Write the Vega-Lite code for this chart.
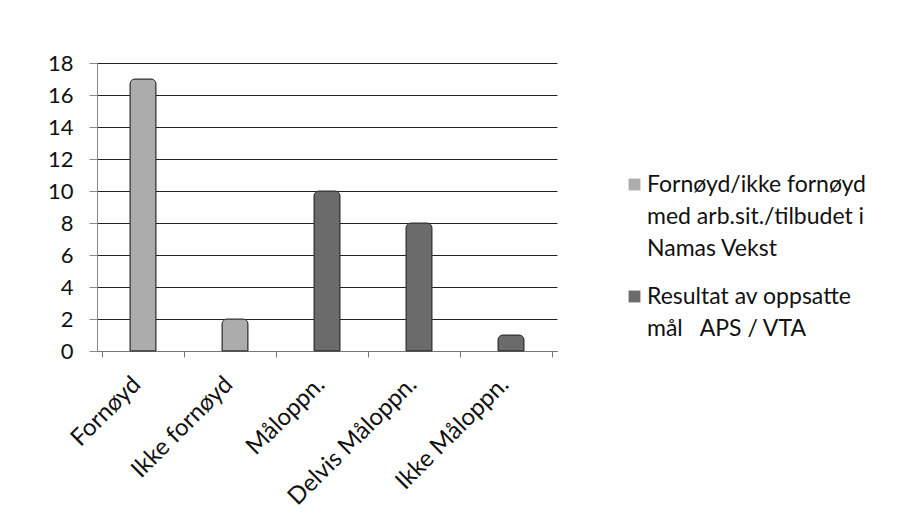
{
  "$schema": "https://vega.github.io/schema/vega-lite/v6.json",
  "autosize": {"type": "none"},
  "width": 460,
  "height": 288,
  "padding": {"left": 97, "top": 63, "right": 349, "bottom": 181},
  "background": "white",
  "config": {
    "font": "Lato",
    "view": {"stroke": null},
    "style": {"guide-label": {"lineHeight": 32}}
  },
  "data": {
    "values": [
      {"kategori": "Fornøyd", "verdi": 17, "serie": "Fornøyd/ikke fornøyd|med arb.sit./tilbudet i|Namas Vekst"},
      {"kategori": "Ikke fornøyd", "verdi": 2, "serie": "Fornøyd/ikke fornøyd|med arb.sit./tilbudet i|Namas Vekst"},
      {"kategori": "Måloppn.", "verdi": 10, "serie": "Resultat av oppsatte|mål   APS / VTA"},
      {"kategori": "Delvis Måloppn.", "verdi": 8, "serie": "Resultat av oppsatte|mål   APS / VTA"},
      {"kategori": "Ikke Måloppn.", "verdi": 1, "serie": "Resultat av oppsatte|mål   APS / VTA"}
    ]
  },
  "mark": {"type": "bar", "size": 26, "stroke": "#333", "strokeWidth": 1, "cornerRadiusTopLeft": 5, "cornerRadiusTopRight": 5},
  "encoding": {
    "x": {
      "field": "kategori",
      "type": "nominal",
      "sort": null,
      "title": null,
      "axis": {
        "labelAngle": -45,
        "labelFontSize": 24,
        "labelColor": "#111",
        "labelAlign": "right",
        "labelBaseline": "top",
        "labelPadding": 15,
        "labelOffset": -15,
        "tickBand": "extent",
        "ticks": true,
        "tickColor": "#777",
        "tickSize": 6,
        "domainColor": "#777",
        "grid": false
      }
    },
    "y": {
      "field": "verdi",
      "type": "quantitative",
      "title": null,
      "scale": {"domain": [0, 18]},
      "axis": {
        "values": [0, 2, 4, 6, 8, 10, 12, 14, 16, 18],
        "labelFontSize": 22,
        "labelColor": "#111",
        "labelPadding": 16,
        "domainColor": "#888",
        "tickColor": "#888",
        "tickSize": 8,
        "gridColor": "#222",
        "gridWidth": 1.2
      }
    },
    "color": {
      "field": "serie",
      "type": "nominal",
      "scale": {"range": ["#acacac", "#6b6b6b"]},
      "legend": {
        "title": null,
        "orient": "none",
        "legendX": 526,
        "legendY": 110,
        "labelExpr": "split(replace(datum.label, '   ', '\u00a0\u00a0\u00a0'), '|')",
        "labelFontSize": 23,
        "labelColor": "#111",
        "labelLimit": 400,
        "symbolType": "square",
        "symbolSize": 140,
        "symbolStrokeWidth": 0,
        "rowPadding": 24,
        "labelOffset": 1
      }
    }
  }
}
